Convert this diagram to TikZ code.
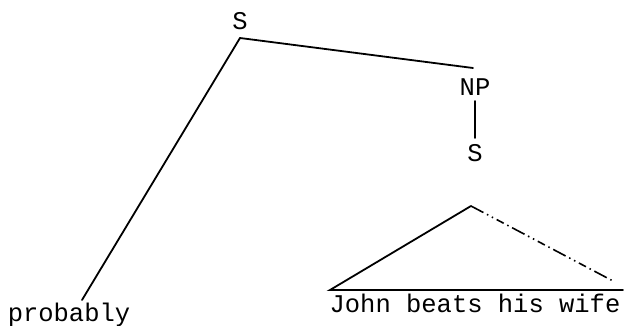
\documentclass[tikz,border=0pt]{standalone}
\usepackage{fontspec}
\setmonofont{Liberation Mono}
\begin{document}
\begin{tikzpicture}[x=1pt,y=-1pt,
  lbl/.style={font=\ttfamily\fontsize{25.5}{27}\selectfont, inner sep=0pt, anchor=base},
  edge/.style={line width=1.8pt, line cap=round},
  dashdots/.style={line width=1.6pt, dash pattern=on 14pt off 4pt on 1.5pt off 4pt on 1.5pt off 4pt on 8pt off 4pt on 1.5pt off 4pt}]
\useasboundingbox (0,0) rectangle (624,326);
\node[lbl] (s1) at (240,30) {S};
\node[lbl] (np) at (475,96) {NP};
\node[lbl] (s2) at (475,162) {S};
\node[lbl] (prob) at (69,321) {probably};
\node[lbl] (john) at (475,312) {John beats his wife};
\coordinate (stop) at (240,38);
\coordinate (nptop) at (473,68);
\coordinate (npbot) at (475,101);
\coordinate (s2top) at (475,138);
\coordinate (probtop) at (82,300);
\coordinate (apex) at (471,206);
\coordinate (bl) at (330,290);
\coordinate (br) at (623,290);
\coordinate (rd) at (613,281);
\draw[edge] (probtop) -- (stop) -- (nptop);
\draw[edge] (npbot) -- (s2top);
\draw[edge] (apex) -- (bl) -- (br);
\draw[dashdots] (apex) -- (rd);
\end{tikzpicture}
\end{document}
